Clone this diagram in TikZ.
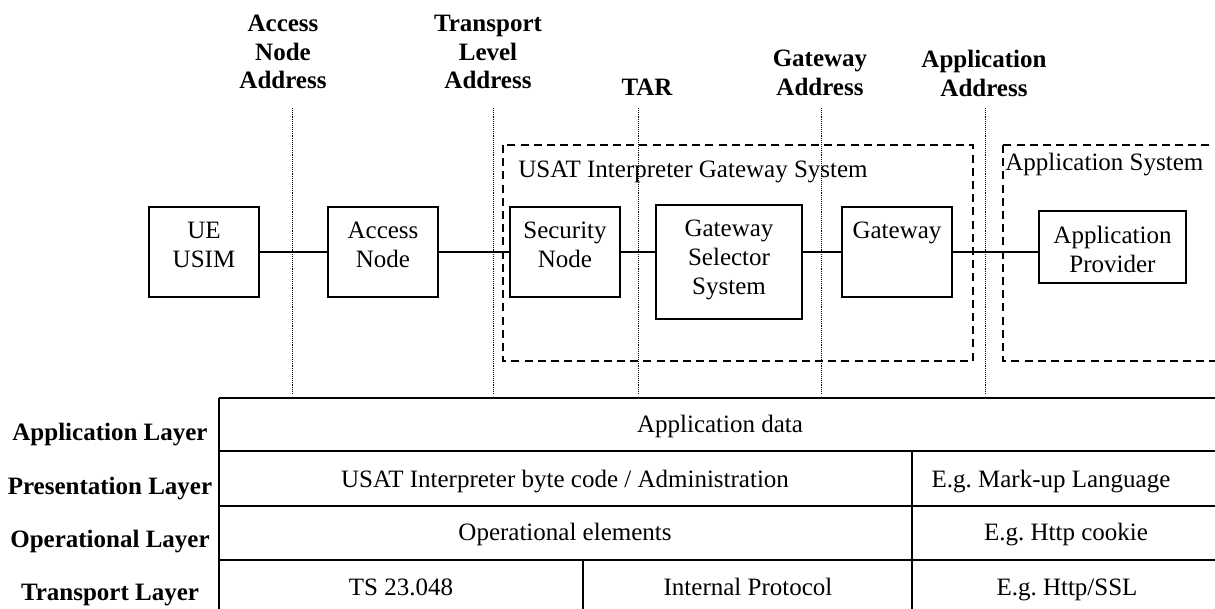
\documentclass[tikz,border=0pt]{standalone}
\usepackage{fontspec}
\setmainfont{Liberation Serif}
\frenchspacing
\begin{document}
\begin{tikzpicture}[x=0.5pt,y=-0.5pt,
  every node/.style={font=\fontsize{12.5}{14.5}\selectfont\frenchspacing, inner sep=0pt},
  box/.style={draw, line width=1pt},
  txt/.style={align=center, anchor=north},
  hdr/.style={align=center, anchor=north, font=\fontsize{12.5}{14.25}\selectfont\bfseries},
  conn/.style={line width=1pt},
  grp/.style={line width=1pt, dash pattern=on 4pt off 2.6pt},
  addr/.style={line width=0.45pt, dash pattern=on 0.45pt off 0.5pt},
  tbl/.style={line width=1pt},
  lay/.style={anchor=base, font=\fontsize{12.5}{14.5}\selectfont\bfseries},
  cell/.style={anchor=base}]
\useasboundingbox (0,0) rectangle (1215,609);
\clip (0,0) rectangle (1215,609);

% address labels
\node[hdr] (lan)  at (283,15) {Access\\Node\\Address};
\node[hdr] (ltl)  at (488,15) {Transport\\Level\\Address};
\node[hdr] (ltar) at (647,79) {TAR};
\node[hdr] (lgw)  at (820,50) {Gateway\\Address};
\node[hdr] (lapp) at (984,50) {Application\\Address};

% dotted address lines
\coordinate (d1t) at (292,108); \coordinate (d1b) at (292,394);
\coordinate (d2t) at (493,108); \coordinate (d2b) at (493,394);
\coordinate (d3t) at (638,108); \coordinate (d3b) at (638,394);
\coordinate (d4t) at (821,108); \coordinate (d4b) at (821,394);
\coordinate (d5t) at (985,108); \coordinate (d5b) at (985,394);
\draw[addr] (d1t) -- (d1b);
\draw[addr] (d2t) -- (d2b);
\draw[addr] (d3t) -- (d3b);
\draw[addr] (d4t) -- (d4b);
\draw[addr] (d5t) -- (d5b);

% group boxes
\draw[grp] (503,145) rectangle (973,361);
\draw[grp] (1003,145) rectangle (1240,361);
\node[anchor=base west] (lusat) at (518,178) {USAT Interpreter Gateway System};
\node[anchor=base west] (lappsys) at (1005,171) {Application System};

% boxes
\node[box, minimum width=55pt, minimum height=45pt] (ue)  at (204,252) {};
\node[box, minimum width=55pt, minimum height=45pt] (an)  at (383,252) {};
\node[box, minimum width=55pt, minimum height=45pt] (sn)  at (565,252) {};
\node[box, minimum width=73pt, minimum height=57pt] (gss) at (729,262) {};
\node[box, minimum width=55pt, minimum height=45pt] (gw)  at (897,252) {};
\node[box, minimum width=73.5pt, minimum height=36pt] (ap) at (1112.5,247) {};

\node[txt] (tue)  at (204,222) {UE\\USIM};
\node[txt] (tan)  at (383,222) {Access\\Node};
\node[txt] (tsn)  at (565,222) {Security\\Node};
\node[txt] (tgss) at (729,220) {Gateway\\Selector\\System};
\node[txt] (tgw)  at (897,222) {Gateway};
\node[txt] (tap)  at (1112.5,226) {Application\\Provider};

% connectors
\draw[conn] (ue.east) -- (an.west);
\draw[conn] (an.east) -- (sn.west);
\draw[conn] (sn.east) -- (sn.east -| gss.west);
\draw[conn] (gss.east |- gw.west) -- (gw.west);
\draw[conn] (gw.east) -- (gw.east -| ap.west);

% layer table
\draw[tbl] (219,398) -- (1240,398);
\draw[tbl] (219,451) -- (1240,451);
\draw[tbl] (219,506) -- (1240,506);
\draw[tbl] (219,560) -- (1240,560);
\draw[tbl] (219,398) -- (219,620);
\draw[tbl] (912,451) -- (912,620);
\draw[tbl] (583,560) -- (583,620);

\node[lay] (la1) at (110,440) {Application Layer};
\node[lay] (la2) at (110,494) {Presentation Layer};
\node[lay] (la3) at (110,547) {Operational Layer};
\node[lay] (la4) at (110,600) {Transport Layer};

\node[cell] (c1)  at (720,432) {Application data};
\node[cell] (c2a) at (565,487) {USAT Interpreter byte code / Administration};
\node[cell] (c2b) at (1051,487) {E.g. Mark-up Language};
\node[cell] (c3a) at (565,540) {Operational elements};
\node[cell] (c3b) at (1066,540) {E.g. Http cookie};
\node[cell] (c4a) at (401,595) {TS 23.048};
\node[cell] (c4b) at (748,595) {Internal Protocol};
\node[cell] (c4c) at (1067,595) {E.g. Http/SSL};
\end{tikzpicture}
\end{document}
